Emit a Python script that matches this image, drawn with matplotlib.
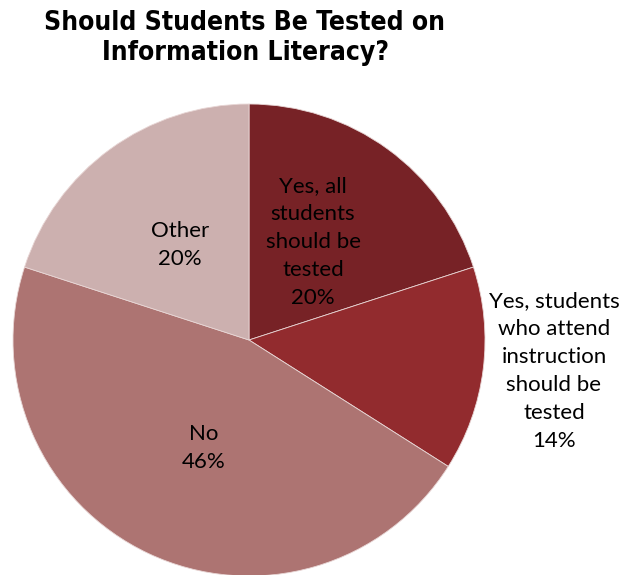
import matplotlib
matplotlib.use("Agg")
import matplotlib.pyplot as plt

labels = ["Yes, all\nstudents\nshould be\ntested",
          "Yes, students\nwho attend\ninstruction\nshould be\ntested",
          "No",
          "Other"]
values = [20, 14, 46, 20]
colors = ["#772226", "#922B2E", "#AD7472", "#CCB0AF"]
title = "Should Students Be Tested on\nInformation Literacy?"

label_font = "Lato"

W, H = 622, 575
fig = plt.figure(figsize=(W / 100, H / 100), dpi=100)
cx, cy, r = 249, 340, 236
ax = fig.add_axes([(cx - r) / W, (H - cy - r) / H, 2 * r / W, 2 * r / H])
wedges, _ = ax.pie(values, colors=colors, startangle=90, counterclock=False,
                   radius=1, wedgeprops=dict(edgecolor="#E8D6D5", linewidth=0.6))
ax.set_xlim(-1, 1)
ax.set_ylim(-1, 1)
ax.set_aspect("equal")
ax.axis("off")

def px(x, y):
    return ((x - cx) / r, (cy - y) / r)

label_pos = [(313, 242), (554, 371), (204, 448), (180, 245)]
for lab, val, (x, y) in zip(labels, values, label_pos):
    ax.text(*px(x, y), f"{lab}\n{val}%", ha="center", va="center",
            fontsize=16, family=label_font, linespacing=1.5,
            color="black", clip_on=False)

fig.text(245 / W, 1 - 38 / H, title, ha="center", va="center",
         fontsize=19, fontweight="bold", family="DejaVu Sans",
         fontstretch="condensed", linespacing=1.25)

fig.savefig("out.png", dpi=100, facecolor="white")
